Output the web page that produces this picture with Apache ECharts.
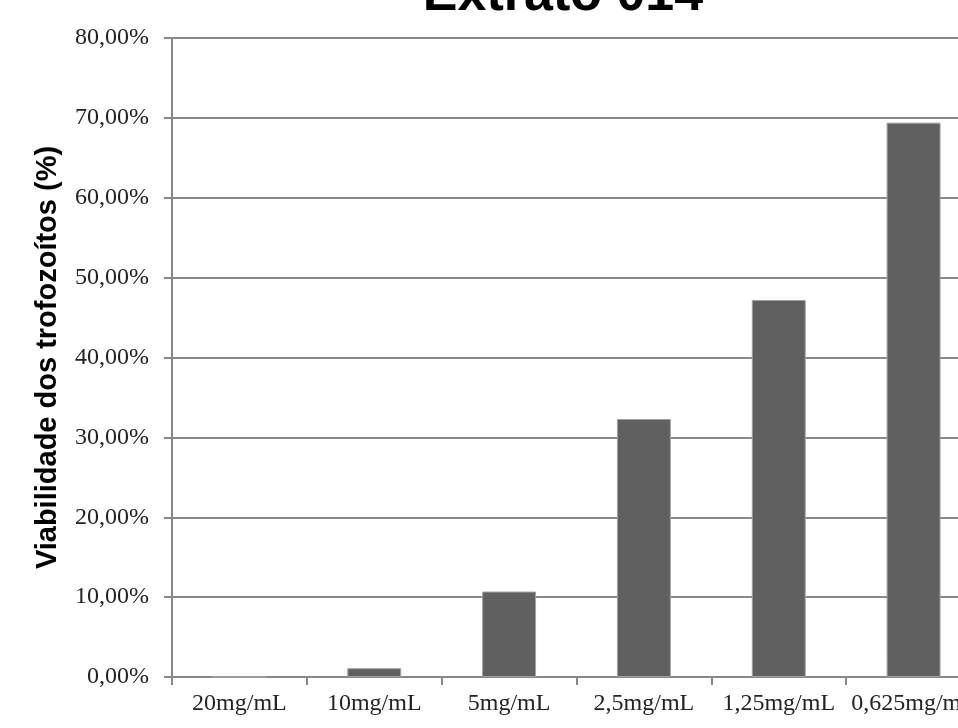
<!DOCTYPE html>
<html>
<head>
<meta charset="utf-8">
<script src="https://cdn.jsdelivr.net/npm/echarts@6/dist/echarts.min.js"></script>
<style>
  html, body { margin: 0; padding: 0; background: #fff; }
  #chart { width: 958px; height: 728px; }
</style>
</head>
<body>
<div id="chart"></div>
<script>
// Concentrations of the extract tested
const categories = ['20mg/mL', '10mg/mL', '5mg/mL', '2,5mg/mL', '1,25mg/mL', '0,625mg/mL'];
// Trophozoite viability (%) per concentration
const viability = [0, 1.1, 10.7, 32.3, 47.2, 69.4];
// Value axis range and step (%)
const yMin = 0;
const yMax = 80;
const yStep = 10;

const chart = echarts.init(document.getElementById('chart'), null, { renderer: 'canvas' });

const fmtPct = v => v.toFixed(2).replace('.', ',') + '%';

chart.setOption({
  backgroundColor: '#ffffff',
  animation: false,
  title: {
    text: 'Extrato 014',
    left: 558,
    textAlign: 'center',
    top: -35,
    textStyle: { fontFamily: 'Liberation Sans', fontWeight: 'bold', fontSize: 52, color: '#000' }
  },
  // The plot runs past the right edge of the canvas, so the last label is cut off
  grid: { left: 172, top: 38, width: 809, height: 639, containLabel: false, outerBoundsMode: 'none' },
  xAxis: {
    type: 'category',
    data: categories,
    axisLine: { show: true, lineStyle: { color: '#888', width: 2 } },
    axisTick: { show: true, length: 8, alignWithLabel: false, lineStyle: { color: '#888', width: 2 } },
    axisLabel: {
      fontFamily: 'Liberation Serif', fontSize: 24, color: '#222', margin: 15, interval: 0,
      hideOverlap: false
    },
    splitLine: { show: false }
  },
  yAxis: {
    type: 'value',
    min: yMin,
    max: yMax,
    interval: yStep,
    name: 'Viabilidade dos trofozoítos (%)',
    nameLocation: 'middle',
    nameGap: 110,
    nameRotate: 90,
    nameTextStyle: { fontFamily: 'Liberation Sans', fontWeight: 'bold', fontSize: 29, color: '#000' },
    axisLine: { show: true, lineStyle: { color: '#888', width: 2 } },
    axisTick: { show: true, length: 8, lineStyle: { color: '#888', width: 2 } },
    axisLabel: {
      fontFamily: 'Liberation Serif', fontSize: 24, color: '#222', margin: 23,
      formatter: v => fmtPct(v)
    },
    splitLine: { show: true, lineStyle: { color: '#888', width: 2 } }
  },
  series: [{
    type: 'bar',
    data: viability,
    barWidth: '40%',
    itemStyle: { color: '#606060', borderColor: '#a0a0a0', borderWidth: 1 }
  }]
});
</script>
</body>
</html>
